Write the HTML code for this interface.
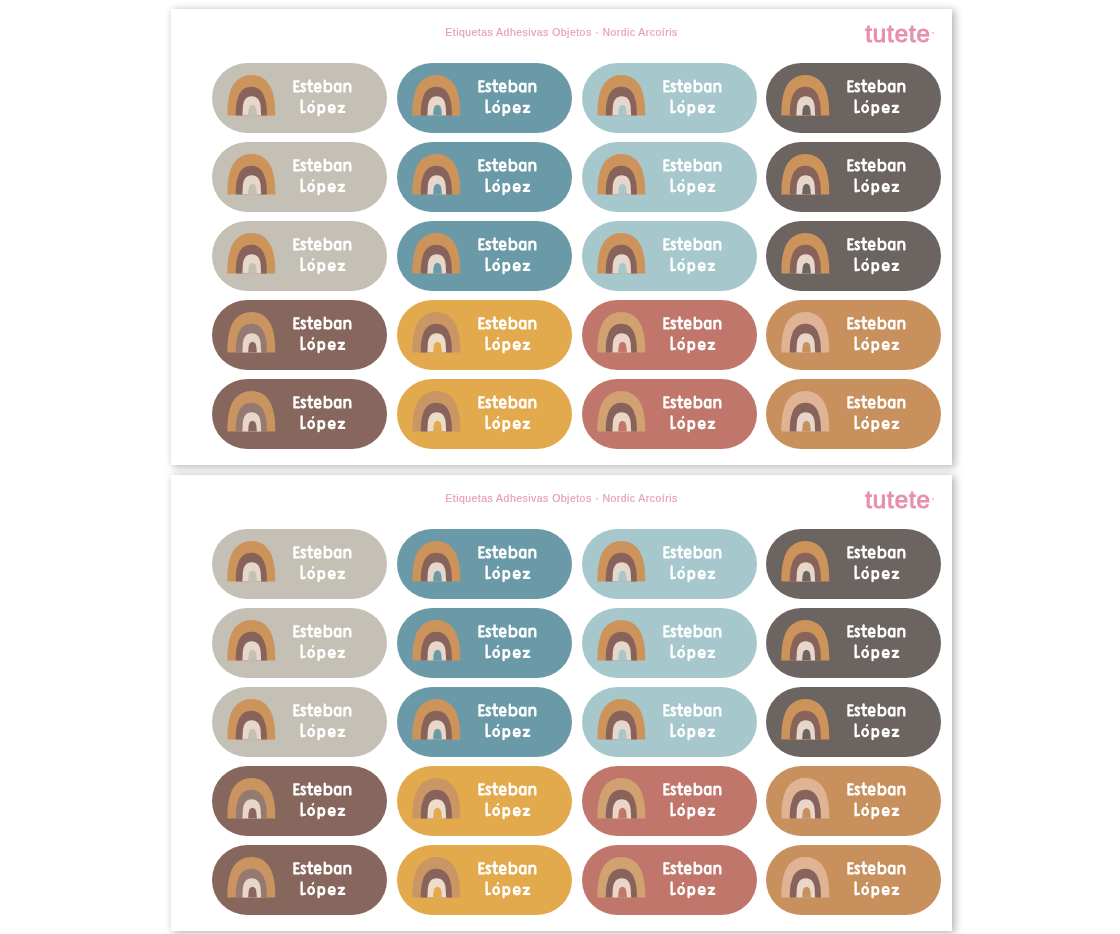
<!DOCTYPE html>
<html><head><meta charset="utf-8"><title>Etiquetas</title>
<style>
html,body{margin:0;padding:0;background:#fff;}
body{width:1120px;height:934px;position:relative;overflow:hidden;font-family:"Liberation Sans",sans-serif;}
.sheet{position:absolute;left:171px;width:781px;height:456.3px;background:#fff;box-shadow:2px 1.5px 8px 0.5px rgba(0,0,0,.30);}
.title{position:absolute;left:0;width:100%;text-align:center;top:17px;font-size:10.5px;line-height:12px;color:#e89dbb;white-space:nowrap;letter-spacing:.47px;-webkit-text-stroke:.2px #e89dbb;filter:blur(.35px);}
.logo{position:absolute;left:694.3px;top:11px;font-size:24px;line-height:28px;color:#e88fb0;letter-spacing:.9px;-webkit-text-stroke:1px #e88fb0;filter:blur(.4px);}
.dot{position:absolute;left:761px;top:23.6px;width:2px;height:2px;border-radius:50%;background:#f0b3c9;}
.p{position:absolute;width:175px;height:69.5px;border-radius:35px;filter:blur(.4px);}
.p svg{position:absolute;left:0;top:0;width:175px;height:69.5px;overflow:visible;}
</style></head><body>
<svg width="0" height="0" style="position:absolute"><defs>
<symbol id="rb" viewBox="0 0 48 40" preserveAspectRatio="none" overflow="visible">
<path style="fill:var(--o)" d="M0,40 C0,30 0.7,24 2.6,17.5 C5.4,6.5 13.5,0 24,0 C34.5,0 42.6,6.5 45.4,17.5 C47.3,24 48,30 48,40 Z"/>
<path style="fill:var(--m)" d="M8.4,40 C8.4,32 9,27 10.5,23 C12.5,16 17,11.8 24,11.8 C31,11.8 35.5,16 37.5,23 C39,27 39.6,32 39.6,40 Z"/>
<path style="fill:var(--i)" d="M15,40 L15.5,31 C16,25 19,21 24.4,21 C29.8,21 32.8,25 33.3,31 L33.8,40 Z"/>
<path style="fill:var(--b)" d="M20.8,40 L21.2,35 C21.5,31.5 23,29.4 25.1,29.4 C27.3,29.4 28.8,31.5 29.1,35 L29.5,40 Z"/>
</symbol>
<g id="nm" fill="none" stroke="#fff" stroke-width="2.35" stroke-linecap="round" stroke-linejoin="round">
<path d="M86.3,18.4 L82.1,18.3 L82.1,28.4 L86.6,28.4 M82.1,23.3 L85.6,23.3"/>
<path d="M92.5,21.5 C91.5,20.4 89.3,20.3 89.2,22.2 C89.1,24.2 92.7,24.3 92.6,26.6 C92.5,28.8 89.8,28.7 88.9,27.5"/>
<path d="M97.2,17.3 L97.2,26.6 C97.2,28.2 98.3,28.6 99.8,28.2 M95.2,21 L99.8,21"/>
<path d="M102.7,24.9 L108.1,24.9 C108.2,21.8 107,20.5 105.3,20.5 C103.4,20.5 102.55,22.3 102.55,24.6 C102.55,27 103.6,28.6 105.5,28.6 C106.6,28.6 107.3,28.4 107.8,27.9"/>
<path d="M112.4,17.6 L112.4,28.3 M112.4,22.5 C113,21.2 114.3,20.6 115.6,20.6 C117.8,20.6 119,22.3 119,24.6 C119,26.9 117.8,28.5 115.6,28.5 C114.3,28.5 113,27.9 112.4,26.7"/>
<path d="M128,20.8 L128,28.4 M128,22.6 C127.4,21.3 126.3,20.6 125.1,20.6 C123.3,20.6 122.4,22.3 122.4,24.6 C122.4,26.9 123.3,28.5 125.1,28.5 C126.3,28.5 127.4,27.8 128,26.5"/>
<path d="M132.1,20.8 L132.1,28.4 M132.1,23 C132.8,21.4 134,20.6 135.3,20.6 C137.1,20.6 137.9,21.8 137.9,23.6 L137.9,28.4"/>
<path d="M89.2,37.4 L89.3,49.3 L92.6,48.7"/>
<ellipse cx="98.75" cy="45.65" rx="2.8" ry="3.5"/>
<path stroke-width="1.7" d="M100.1,38.9 L101.0,37.8"/>
<path d="M106.2,42.2 L106.2,52 M106.2,44 C106.8,42.8 107.9,42.15 109,42.15 C110.9,42.15 111.85,43.7 111.85,45.7 C111.85,47.7 110.9,49.2 109,49.2 C107.9,49.2 106.8,48.6 106.2,47.4"/>
<path d="M116.6,46.1 L122.3,46.1 C122.4,43.4 121.2,42.15 119.4,42.15 C117.4,42.15 116.45,43.8 116.45,45.8 C116.45,47.8 117.5,49.25 119.5,49.25 C120.7,49.25 121.5,49.0 122.0,48.5"/>
<path d="M126.4,42.9 L131.4,42.9 L126.5,48.9 L131.8,48.9"/>
</g>
</defs></svg>

<div class="sheet" style="top:8.6px"><div class="title">Etiquetas Adhesivas Objetos &middot; Nordic Arco&iacute;ris</div><div class="logo">tutete</div><div class="dot"></div></div>
<div class="p" style="left:212px;top:63px;background:#c5c0b5;--b:#c5c0b5;--o:#cc945a;--m:#87635b;--i:#e6d7ca"><svg viewBox="0 0 175 69.5"><use href="#rb" x="15.4" y="11.9" width="47.9" height="40.5"/><use href="#nm" x="0.4"/></svg></div>
<div class="p" style="left:396.75px;top:63px;background:#6a9aa7;--b:#6a9aa7;--o:#cc945a;--m:#87635b;--i:#e6d7ca"><svg viewBox="0 0 175 69.5"><use href="#rb" x="15.4" y="11.9" width="47.9" height="40.5"/><use href="#nm" x="0.4"/></svg></div>
<div class="p" style="left:581.5px;top:63px;background:#a6c8cd;--b:#a6c8cd;--o:#cc945a;--m:#87635b;--i:#e6d7ca"><svg viewBox="0 0 175 69.5"><use href="#rb" x="15.4" y="11.9" width="47.9" height="40.5"/><use href="#nm" x="0.4"/></svg></div>
<div class="p" style="left:766.25px;top:63px;background:#6c6461;--b:#6c6461;--o:#cc945a;--m:#87635b;--i:#e6d7ca"><svg viewBox="0 0 175 69.5"><use href="#rb" x="15.4" y="11.9" width="47.9" height="40.5"/><use href="#nm" x="0.4"/></svg></div>
<div class="p" style="left:212px;top:142px;background:#c5c0b5;--b:#c5c0b5;--o:#cc945a;--m:#87635b;--i:#e6d7ca"><svg viewBox="0 0 175 69.5"><use href="#rb" x="15.4" y="11.9" width="47.9" height="40.5"/><use href="#nm" x="0.4"/></svg></div>
<div class="p" style="left:396.75px;top:142px;background:#6a9aa7;--b:#6a9aa7;--o:#cc945a;--m:#87635b;--i:#e6d7ca"><svg viewBox="0 0 175 69.5"><use href="#rb" x="15.4" y="11.9" width="47.9" height="40.5"/><use href="#nm" x="0.4"/></svg></div>
<div class="p" style="left:581.5px;top:142px;background:#a6c8cd;--b:#a6c8cd;--o:#cc945a;--m:#87635b;--i:#e6d7ca"><svg viewBox="0 0 175 69.5"><use href="#rb" x="15.4" y="11.9" width="47.9" height="40.5"/><use href="#nm" x="0.4"/></svg></div>
<div class="p" style="left:766.25px;top:142px;background:#6c6461;--b:#6c6461;--o:#cc945a;--m:#87635b;--i:#e6d7ca"><svg viewBox="0 0 175 69.5"><use href="#rb" x="15.4" y="11.9" width="47.9" height="40.5"/><use href="#nm" x="0.4"/></svg></div>
<div class="p" style="left:212px;top:221px;background:#c5c0b5;--b:#c5c0b5;--o:#cc945a;--m:#87635b;--i:#e6d7ca"><svg viewBox="0 0 175 69.5"><use href="#rb" x="15.4" y="11.9" width="47.9" height="40.5"/><use href="#nm" x="0.4"/></svg></div>
<div class="p" style="left:396.75px;top:221px;background:#6a9aa7;--b:#6a9aa7;--o:#cc945a;--m:#87635b;--i:#e6d7ca"><svg viewBox="0 0 175 69.5"><use href="#rb" x="15.4" y="11.9" width="47.9" height="40.5"/><use href="#nm" x="0.4"/></svg></div>
<div class="p" style="left:581.5px;top:221px;background:#a6c8cd;--b:#a6c8cd;--o:#cc945a;--m:#87635b;--i:#e6d7ca"><svg viewBox="0 0 175 69.5"><use href="#rb" x="15.4" y="11.9" width="47.9" height="40.5"/><use href="#nm" x="0.4"/></svg></div>
<div class="p" style="left:766.25px;top:221px;background:#6c6461;--b:#6c6461;--o:#cc945a;--m:#87635b;--i:#e6d7ca"><svg viewBox="0 0 175 69.5"><use href="#rb" x="15.4" y="11.9" width="47.9" height="40.5"/><use href="#nm" x="0.4"/></svg></div>
<div class="p" style="left:212px;top:300px;background:#87675d;--b:#87675d;--o:#c9945f;--m:#957a72;--i:#e8d6c9"><svg viewBox="0 0 175 69.5"><use href="#rb" x="15.4" y="11.9" width="47.9" height="40.5"/><use href="#nm" x="0.4"/></svg></div>
<div class="p" style="left:396.75px;top:300px;background:#e2a94d;--b:#e2a94d;--o:#ca9663;--m:#87635b;--i:#ecdcc9"><svg viewBox="0 0 175 69.5"><use href="#rb" x="15.4" y="11.9" width="47.9" height="40.5"/><use href="#nm" x="0.4"/></svg></div>
<div class="p" style="left:581.5px;top:300px;background:#c0766b;--b:#c0766b;--o:#d1a172;--m:#87635b;--i:#ecd5c6"><svg viewBox="0 0 175 69.5"><use href="#rb" x="15.4" y="11.9" width="47.9" height="40.5"/><use href="#nm" x="0.4"/></svg></div>
<div class="p" style="left:766.25px;top:300px;background:#c8905d;--b:#c8905d;--o:#dfb393;--m:#87635b;--i:#e8d7c8"><svg viewBox="0 0 175 69.5"><use href="#rb" x="15.4" y="11.9" width="47.9" height="40.5"/><use href="#nm" x="0.4"/></svg></div>
<div class="p" style="left:212px;top:379px;background:#87675d;--b:#87675d;--o:#c9945f;--m:#957a72;--i:#e8d6c9"><svg viewBox="0 0 175 69.5"><use href="#rb" x="15.4" y="11.9" width="47.9" height="40.5"/><use href="#nm" x="0.4"/></svg></div>
<div class="p" style="left:396.75px;top:379px;background:#e2a94d;--b:#e2a94d;--o:#ca9663;--m:#87635b;--i:#ecdcc9"><svg viewBox="0 0 175 69.5"><use href="#rb" x="15.4" y="11.9" width="47.9" height="40.5"/><use href="#nm" x="0.4"/></svg></div>
<div class="p" style="left:581.5px;top:379px;background:#c0766b;--b:#c0766b;--o:#d1a172;--m:#87635b;--i:#ecd5c6"><svg viewBox="0 0 175 69.5"><use href="#rb" x="15.4" y="11.9" width="47.9" height="40.5"/><use href="#nm" x="0.4"/></svg></div>
<div class="p" style="left:766.25px;top:379px;background:#c8905d;--b:#c8905d;--o:#dfb393;--m:#87635b;--i:#e8d7c8"><svg viewBox="0 0 175 69.5"><use href="#rb" x="15.4" y="11.9" width="47.9" height="40.5"/><use href="#nm" x="0.4"/></svg></div>
<div class="sheet" style="top:474.6px"><div class="title">Etiquetas Adhesivas Objetos &middot; Nordic Arco&iacute;ris</div><div class="logo">tutete</div><div class="dot"></div></div>
<div class="p" style="left:212px;top:529px;background:#c5c0b5;--b:#c5c0b5;--o:#cc945a;--m:#87635b;--i:#e6d7ca"><svg viewBox="0 0 175 69.5"><use href="#rb" x="15.4" y="11.9" width="47.9" height="40.5"/><use href="#nm" x="0.4"/></svg></div>
<div class="p" style="left:396.75px;top:529px;background:#6a9aa7;--b:#6a9aa7;--o:#cc945a;--m:#87635b;--i:#e6d7ca"><svg viewBox="0 0 175 69.5"><use href="#rb" x="15.4" y="11.9" width="47.9" height="40.5"/><use href="#nm" x="0.4"/></svg></div>
<div class="p" style="left:581.5px;top:529px;background:#a6c8cd;--b:#a6c8cd;--o:#cc945a;--m:#87635b;--i:#e6d7ca"><svg viewBox="0 0 175 69.5"><use href="#rb" x="15.4" y="11.9" width="47.9" height="40.5"/><use href="#nm" x="0.4"/></svg></div>
<div class="p" style="left:766.25px;top:529px;background:#6c6461;--b:#6c6461;--o:#cc945a;--m:#87635b;--i:#e6d7ca"><svg viewBox="0 0 175 69.5"><use href="#rb" x="15.4" y="11.9" width="47.9" height="40.5"/><use href="#nm" x="0.4"/></svg></div>
<div class="p" style="left:212px;top:608px;background:#c5c0b5;--b:#c5c0b5;--o:#cc945a;--m:#87635b;--i:#e6d7ca"><svg viewBox="0 0 175 69.5"><use href="#rb" x="15.4" y="11.9" width="47.9" height="40.5"/><use href="#nm" x="0.4"/></svg></div>
<div class="p" style="left:396.75px;top:608px;background:#6a9aa7;--b:#6a9aa7;--o:#cc945a;--m:#87635b;--i:#e6d7ca"><svg viewBox="0 0 175 69.5"><use href="#rb" x="15.4" y="11.9" width="47.9" height="40.5"/><use href="#nm" x="0.4"/></svg></div>
<div class="p" style="left:581.5px;top:608px;background:#a6c8cd;--b:#a6c8cd;--o:#cc945a;--m:#87635b;--i:#e6d7ca"><svg viewBox="0 0 175 69.5"><use href="#rb" x="15.4" y="11.9" width="47.9" height="40.5"/><use href="#nm" x="0.4"/></svg></div>
<div class="p" style="left:766.25px;top:608px;background:#6c6461;--b:#6c6461;--o:#cc945a;--m:#87635b;--i:#e6d7ca"><svg viewBox="0 0 175 69.5"><use href="#rb" x="15.4" y="11.9" width="47.9" height="40.5"/><use href="#nm" x="0.4"/></svg></div>
<div class="p" style="left:212px;top:687px;background:#c5c0b5;--b:#c5c0b5;--o:#cc945a;--m:#87635b;--i:#e6d7ca"><svg viewBox="0 0 175 69.5"><use href="#rb" x="15.4" y="11.9" width="47.9" height="40.5"/><use href="#nm" x="0.4"/></svg></div>
<div class="p" style="left:396.75px;top:687px;background:#6a9aa7;--b:#6a9aa7;--o:#cc945a;--m:#87635b;--i:#e6d7ca"><svg viewBox="0 0 175 69.5"><use href="#rb" x="15.4" y="11.9" width="47.9" height="40.5"/><use href="#nm" x="0.4"/></svg></div>
<div class="p" style="left:581.5px;top:687px;background:#a6c8cd;--b:#a6c8cd;--o:#cc945a;--m:#87635b;--i:#e6d7ca"><svg viewBox="0 0 175 69.5"><use href="#rb" x="15.4" y="11.9" width="47.9" height="40.5"/><use href="#nm" x="0.4"/></svg></div>
<div class="p" style="left:766.25px;top:687px;background:#6c6461;--b:#6c6461;--o:#cc945a;--m:#87635b;--i:#e6d7ca"><svg viewBox="0 0 175 69.5"><use href="#rb" x="15.4" y="11.9" width="47.9" height="40.5"/><use href="#nm" x="0.4"/></svg></div>
<div class="p" style="left:212px;top:766px;background:#87675d;--b:#87675d;--o:#c9945f;--m:#957a72;--i:#e8d6c9"><svg viewBox="0 0 175 69.5"><use href="#rb" x="15.4" y="11.9" width="47.9" height="40.5"/><use href="#nm" x="0.4"/></svg></div>
<div class="p" style="left:396.75px;top:766px;background:#e2a94d;--b:#e2a94d;--o:#ca9663;--m:#87635b;--i:#ecdcc9"><svg viewBox="0 0 175 69.5"><use href="#rb" x="15.4" y="11.9" width="47.9" height="40.5"/><use href="#nm" x="0.4"/></svg></div>
<div class="p" style="left:581.5px;top:766px;background:#c0766b;--b:#c0766b;--o:#d1a172;--m:#87635b;--i:#ecd5c6"><svg viewBox="0 0 175 69.5"><use href="#rb" x="15.4" y="11.9" width="47.9" height="40.5"/><use href="#nm" x="0.4"/></svg></div>
<div class="p" style="left:766.25px;top:766px;background:#c8905d;--b:#c8905d;--o:#dfb393;--m:#87635b;--i:#e8d7c8"><svg viewBox="0 0 175 69.5"><use href="#rb" x="15.4" y="11.9" width="47.9" height="40.5"/><use href="#nm" x="0.4"/></svg></div>
<div class="p" style="left:212px;top:845px;background:#87675d;--b:#87675d;--o:#c9945f;--m:#957a72;--i:#e8d6c9"><svg viewBox="0 0 175 69.5"><use href="#rb" x="15.4" y="11.9" width="47.9" height="40.5"/><use href="#nm" x="0.4"/></svg></div>
<div class="p" style="left:396.75px;top:845px;background:#e2a94d;--b:#e2a94d;--o:#ca9663;--m:#87635b;--i:#ecdcc9"><svg viewBox="0 0 175 69.5"><use href="#rb" x="15.4" y="11.9" width="47.9" height="40.5"/><use href="#nm" x="0.4"/></svg></div>
<div class="p" style="left:581.5px;top:845px;background:#c0766b;--b:#c0766b;--o:#d1a172;--m:#87635b;--i:#ecd5c6"><svg viewBox="0 0 175 69.5"><use href="#rb" x="15.4" y="11.9" width="47.9" height="40.5"/><use href="#nm" x="0.4"/></svg></div>
<div class="p" style="left:766.25px;top:845px;background:#c8905d;--b:#c8905d;--o:#dfb393;--m:#87635b;--i:#e8d7c8"><svg viewBox="0 0 175 69.5"><use href="#rb" x="15.4" y="11.9" width="47.9" height="40.5"/><use href="#nm" x="0.4"/></svg></div>
</body></html>
